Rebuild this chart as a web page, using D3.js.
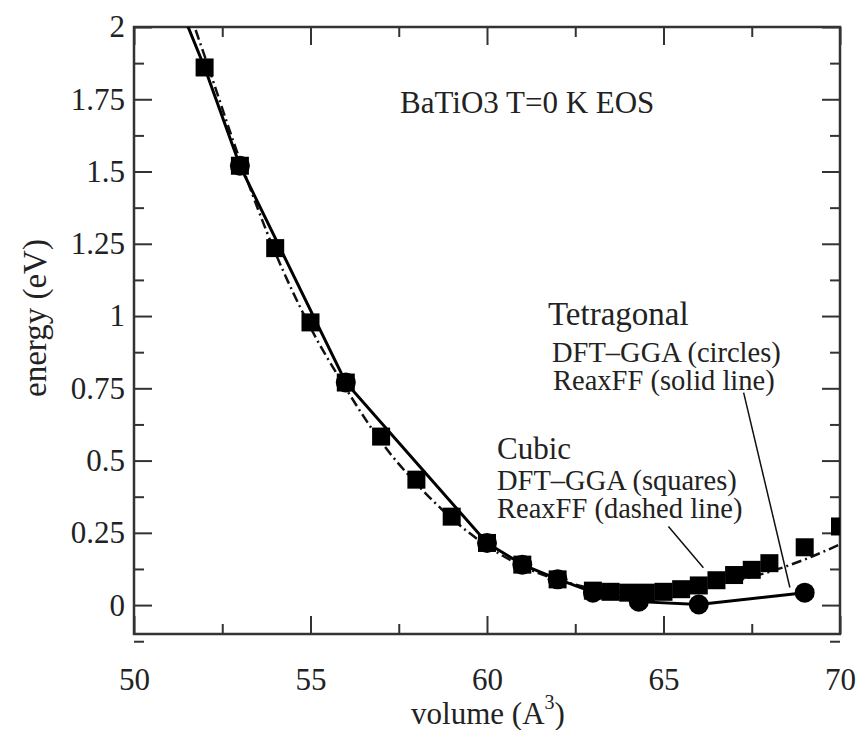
<!DOCTYPE html>
<html>
<head>
<meta charset="utf-8">
<script src="https://cdn.jsdelivr.net/npm/d3@7"></script>
<style>
  body { margin: 0; background: #fff; }
  svg text { font-family: "Liberation Serif", "Times New Roman", Times, "DejaVu Serif", serif; fill: #222; }
</style>
</head>
<body>
<svg id="chart" width="857" height="730"></svg>
<script>
// cubic, DFT-GGA (squares)
let cubicVol = [52, 53, 54, 55, 56, 57, 58, 59, 60, 61, 62, 63, 63.5, 64, 64.5, 65, 65.5, 66, 66.5, 67, 67.5, 68, 69, 70];
let cubicE = [1.86, 1.52, 1.235, 0.978, 0.77, 0.583, 0.434, 0.306, 0.215, 0.14, 0.089, 0.05, 0.046, 0.043, 0.043, 0.046, 0.055, 0.068, 0.086, 0.104, 0.122, 0.145, 0.2, 0.272];

// tetragonal, DFT-GGA (circles)
let tetraVol = [53, 56, 60, 61, 62, 63, 64.3, 66, 69];
let tetraE = [1.52, 0.77, 0.215, 0.14, 0.089, 0.043, 0.012, 0.002, 0.043];

// ReaxFF tetragonal (solid line)
let solidVol = [51, 52, 53, 56, 60, 61, 62, 63, 64.3, 66, 69];
let solidE = [2.16, 1.86, 1.52, 0.77, 0.215, 0.14, 0.09, 0.045, 0.012, 0.002, 0.043];

// ReaxFF cubic (dashed line)
let dashVol = [51, 52, 53, 54, 55, 56, 57, 58, 59, 60, 61, 62, 63, 64, 65, 66, 67, 68, 69, 70];
let dashE = [2.25, 1.9, 1.54, 1.22, 0.96, 0.75, 0.565, 0.42, 0.3, 0.205, 0.135, 0.088, 0.058, 0.045, 0.047, 0.06, 0.083, 0.115, 0.158, 0.21];

let xMajor = [50, 55, 60, 65, 70];
let xMinor = [52.5, 57.5, 62.5, 67.5];
let yMajor = [0, 0.25, 0.5, 0.75, 1, 1.25, 1.5, 1.75, 2];
let yMinor = [-0.125, 0.125, 0.375, 0.625, 0.875, 1.125, 1.375, 1.625, 1.875];
let yLabels = ["0", "0.25", "0.5", "0.75", "1", "1.25", "1.5", "1.75", "2"];

let plotLeft = 134, plotRight = 840, plotTop = 27, plotBottom = 634;
let serif = "'Liberation Serif', 'Times New Roman', Times, 'DejaVu Serif', serif";

let svg = d3.select("#chart");

let x = d3.scaleLinear().domain([50, 70]).range([plotLeft, plotRight]);
let y = d3.scaleLinear().domain([-0.1, 2]).range([plotBottom, plotTop]);

svg.append("clipPath").attr("id", "clip")
    .append("rect")
    .attr("x", plotLeft).attr("y", plotTop)
    .attr("width", plotRight - plotLeft).attr("height", plotBottom - plotTop);

// axes, ticks pointing inward
function styleAxis(g) {
    g.attr("font-family", serif);
    g.select(".domain").remove();
    g.selectAll(".tick line").attr("stroke", "#333").attr("stroke-width", 2);
    g.selectAll(".tick text")
        .style("font-family", serif)
        .style("font-size", "31px")
        .attr("fill", "#333");
}

svg.append("g").attr("transform", "translate(0," + plotBottom + ")")
    .call(d3.axisBottom(x).tickValues(xMajor).tickSize(-18).tickPadding(34).tickFormat(d3.format("d")))
    .call(styleAxis);
svg.append("g").attr("transform", "translate(0," + plotBottom + ")")
    .call(d3.axisBottom(x).tickValues(xMinor).tickSize(-10).tickFormat(""))
    .call(styleAxis);
svg.append("g").attr("transform", "translate(0," + plotTop + ")")
    .call(d3.axisTop(x).tickValues(xMajor).tickSize(-18).tickFormat(""))
    .call(styleAxis);
svg.append("g").attr("transform", "translate(0," + plotTop + ")")
    .call(d3.axisTop(x).tickValues(xMinor).tickSize(-10).tickFormat(""))
    .call(styleAxis);

svg.append("g").attr("transform", "translate(" + plotLeft + ",0)")
    .call(d3.axisLeft(y).tickValues(yMajor).tickSize(-18).tickPadding(9)
        .tickFormat((d, i) => yLabels[i]))
    .call(styleAxis);
svg.append("g").attr("transform", "translate(" + plotLeft + ",0)")
    .call(d3.axisLeft(y).tickValues(yMinor).tickSize(-10).tickFormat(""))
    .call(styleAxis);
svg.append("g").attr("transform", "translate(" + plotRight + ",0)")
    .call(d3.axisRight(y).tickValues(yMajor).tickSize(-18).tickFormat(""))
    .call(styleAxis);
svg.append("g").attr("transform", "translate(" + plotRight + ",0)")
    .call(d3.axisRight(y).tickValues(yMinor).tickSize(-10).tickFormat(""))
    .call(styleAxis);

svg.append("rect")
    .attr("x", plotLeft).attr("y", plotTop)
    .attr("width", plotRight - plotLeft).attr("height", plotBottom - plotTop)
    .attr("fill", "none").attr("stroke", "#333").attr("stroke-width", 2.5);

// axis titles
let xTitle = svg.append("text")
    .attr("x", 488).attr("y", 724)
    .attr("text-anchor", "middle")
    .style("font-family", serif)
    .style("font-size", "31px");
xTitle.append("tspan").text("volume (A");
xTitle.append("tspan").attr("dy", -15).style("font-size", "20px").text("3");
xTitle.append("tspan").attr("dy", 15).text(")");

svg.append("text")
    .attr("transform", "translate(46,318) rotate(-90)")
    .attr("text-anchor", "middle")
    .style("font-family", serif)
    .style("font-size", "33px")
    .text("energy (eV)");

let plot = svg.append("g").attr("clip-path", "url(#clip)");

let line = d3.line()
    .x(d => x(d[0]))
    .y(d => y(d[1]));

let smooth = d3.line()
    .x(d => x(d[0]))
    .y(d => y(d[1]))
    .curve(d3.curveMonotoneX);

plot.append("path")
    .datum(d3.zip(dashVol, dashE))
    .attr("d", smooth)
    .attr("fill", "none")
    .attr("stroke", "#111")
    .attr("stroke-width", 2.5)
    .attr("stroke-dasharray", "10,4,2,4");

plot.append("path")
    .datum(d3.zip(solidVol, solidE))
    .attr("d", line)
    .attr("fill", "none")
    .attr("stroke", "#000")
    .attr("stroke-width", 3);

// squares
plot.selectAll(".sq")
    .data(d3.zip(cubicVol, cubicE))
    .enter()
    .append("rect")
    .attr("class", "sq")
    .attr("x", d => x(d[0]) - 9)
    .attr("y", d => y(d[1]) - 9)
    .attr("width", 18)
    .attr("height", 18)
    .attr("fill", "#000");

// circles
plot.selectAll(".ci")
    .data(d3.zip(tetraVol, tetraE))
    .enter()
    .append("circle")
    .attr("class", "ci")
    .attr("cx", d => x(d[0]))
    .attr("cy", d => y(d[1]))
    .attr("r", 10)
    .attr("fill", "#000");

// leader lines
svg.append("line")
    .attr("x1", x(67.27)).attr("y1", y(0.735))
    .attr("x2", x(68.58)).attr("y2", y(0.061))
    .attr("stroke", "#111").attr("stroke-width", 1.5);
svg.append("line")
    .attr("x1", x(65.14)).attr("y1", y(0.272))
    .attr("x2", x(66.13)).attr("y2", y(0.129))
    .attr("stroke", "#111").attr("stroke-width", 1.5);

// annotations
let notes = [
    { t: "BaTiO3 T=0 K EOS", x: 400, y: 113, s: 31 },
    { t: "Tetragonal", x: 548, y: 325, s: 33 },
    { t: "DFT\u2013GGA (circles)", x: 552, y: 362, s: 28.5 },
    { t: "ReaxFF (solid line)", x: 553, y: 390, s: 28.5 },
    { t: "Cubic", x: 497, y: 459, s: 31 },
    { t: "DFT\u2013GGA (squares)", x: 497, y: 490, s: 28.5 },
    { t: "ReaxFF (dashed line)", x: 497, y: 518, s: 28.5 }
];
svg.selectAll(".note")
    .data(notes)
    .enter()
    .append("text")
    .attr("class", "note")
    .attr("x", d => d.x)
    .attr("y", d => d.y)
    .style("font-family", serif)
    .style("font-size", d => d.s + "px")
    .text(d => d.t);
</script>
</body>
</html>
